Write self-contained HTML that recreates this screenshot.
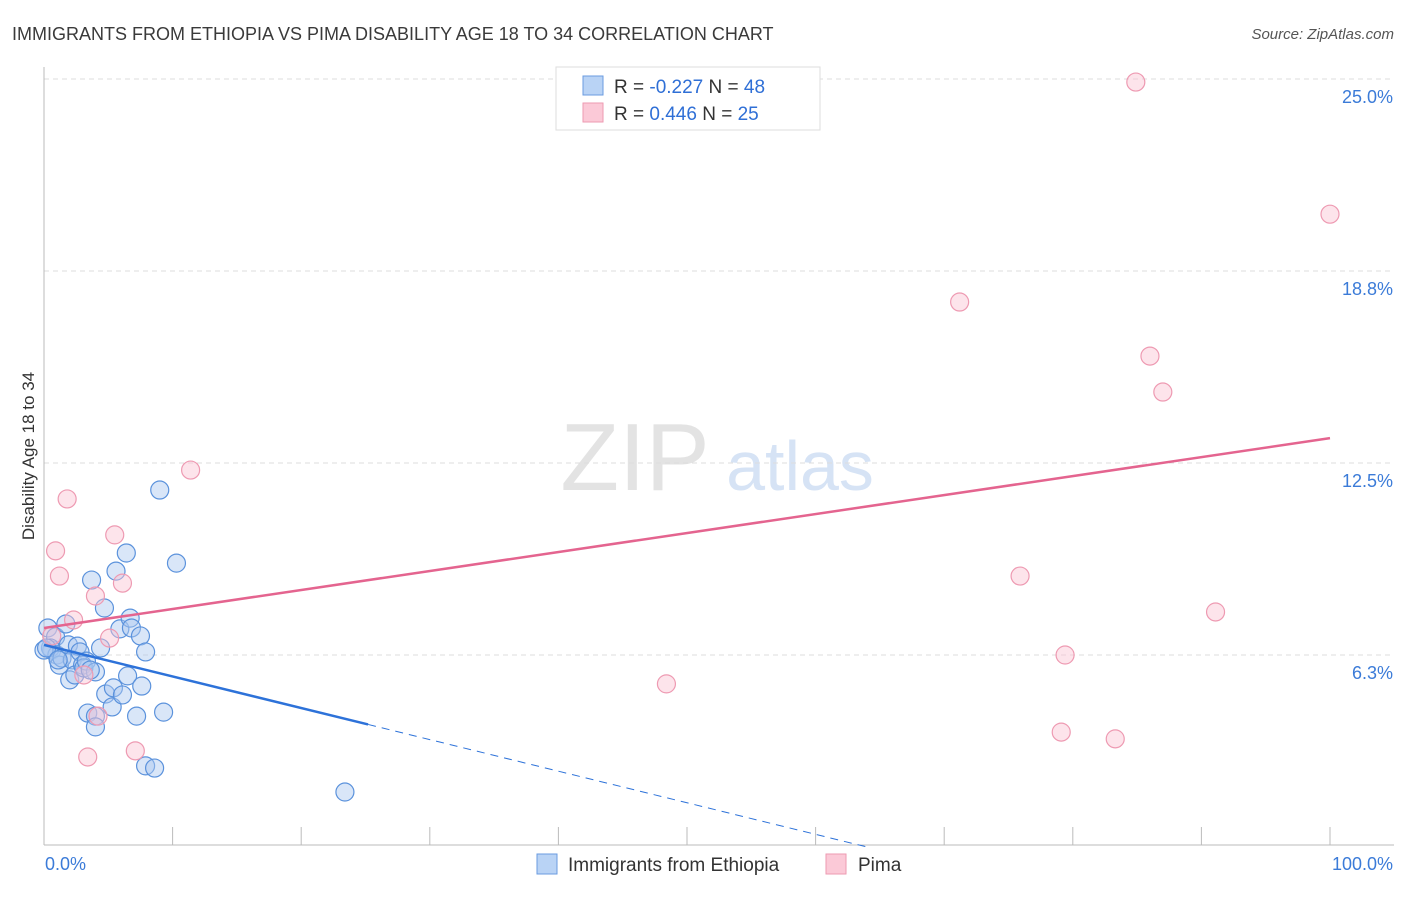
<!DOCTYPE html>
<html><head><meta charset="utf-8"><style>
body{margin:0;background:#fff;font-family:"Liberation Sans",sans-serif}
svg text{font-family:"Liberation Sans",sans-serif}
</style></head><body>
<svg id="c" width="1406" height="892" xmlns="http://www.w3.org/2000/svg">
<text x="12" y="40" font-size="18" fill="#3a3a3a">IMMIGRANTS FROM ETHIOPIA VS PIMA DISABILITY AGE 18 TO 34 CORRELATION CHART</text>
<text x="1394" y="39" font-size="15" fill="#555" text-anchor="end" font-style="italic">Source: ZipAtlas.com</text>
<g><text x="635" y="490" font-size="96" fill="#e3e3e3" text-anchor="middle" font-family="Liberation Serif">ZIP</text><text x="800" y="490" font-size="70" fill="#d6e3f5" text-anchor="middle">atlas</text></g>
<g id="grid"></g><g id="axes"></g><g id="marks"></g>
<text transform="translate(34,456) rotate(-90)" font-size="17" fill="#333" text-anchor="middle">Disability Age 18 to 34</text>
<g>
<rect x="556" y="67" width="264" height="63" fill="#fff" stroke="#ddd"/>
<rect x="583" y="76" width="20" height="19" fill="#b9d3f5" stroke="#6a9be0"/>
<rect x="583" y="103" width="20" height="19" fill="#fbc9d7" stroke="#ee9ab2"/>
<text x="614" y="93" font-size="19" fill="#333">R = <tspan fill="#2f6fd6">-0.227</tspan>   N = <tspan fill="#2f6fd6">48</tspan></text>
<text x="614" y="120" font-size="19" fill="#333">R =  <tspan fill="#2f6fd6">0.446</tspan>   N = <tspan fill="#2f6fd6">25</tspan></text>
</g>
<g>
<rect x="537" y="854" width="20" height="20" fill="#b9d3f5" stroke="#6a9be0"/>
<text x="568" y="871" font-size="19" fill="#333">Immigrants from Ethiopia</text>
<rect x="826" y="854" width="20" height="20" fill="#fbc9d7" stroke="#ee9ab2"/>
<text x="858" y="871" font-size="19" fill="#333">Pima</text>
</g>
</svg>
<script>
const yTicks=[6.25,12.5,18.75,25];
const yTickLabels=["6.3%","12.5%","18.8%","25.0%"];
const xTickLabels=["0.0%","100.0%"];
const blueX=[0.3,0.6,0.9,0.5,1.0,1.2,1.4,1.7,1.9,2.0,2.2,2.4,2.6,2.8,3.0,3.1,3.3,3.4,3.7,4.0,4.0,4.0,4.4,4.7,4.8,5.3,5.4,5.6,5.9,6.1,6.4,6.5,6.7,6.8,7.2,7.5,7.6,7.9,7.9,8.6,9.0,9.3,10.3,23.4,0,0.2,1.1,3.6];
const blueY=[7.13,6.41,6.84,6.48,6.25,5.92,6.15,7.26,6.58,5.44,6.09,5.6,6.54,6.35,5.92,5.83,6.05,4.36,8.69,5.7,4.26,3.91,6.48,7.78,4.98,4.56,5.18,8.98,7.1,4.95,9.57,5.57,7.45,7.13,4.26,6.87,5.24,2.64,6.35,2.57,11.62,4.39,9.24,1.79,6.41,6.48,6.09,5.76];
const pinkX=[84.9,100,71.2,86.0,87.0,11.4,1.8,5.5,0.9,1.2,6.1,4.0,2.3,5.1,75.9,91.1,79.4,48.4,79.1,83.3,7.1,3.4,4.2,3.1,0.6];
const pinkY=[24.9,20.6,17.74,15.98,14.81,12.27,11.33,10.16,9.64,8.82,8.59,8.17,7.39,6.8,8.82,7.65,6.25,5.31,3.74,3.52,3.13,2.93,4.26,5.6,6.87];
const blueTrend=[6.58,-0.1028];
const pinkTrend=[7.13,0.0618];
const NS="http://www.w3.org/2000/svg";
const X=v=>44+v*12.86, Y=v=>847-v*30.72;
function mk(p,t,a){const e=document.createElementNS(NS,t);for(const k in a)e.setAttribute(k,a[k]);p.appendChild(e);return e;}
const grid=document.getElementById('grid'),axes=document.getElementById('axes'),marks=document.getElementById('marks');
yTicks.forEach((t,i)=>{
const l=mk(grid,'line',{x1:44,x2:1394,y1:Y(t),y2:Y(t),stroke:'#ddd','stroke-dasharray':'5,4'});


const tx=mk(grid,'text',{x:1393,y:Y(t)+24,'font-size':18,fill:'#3b7bd8','text-anchor':'end'});tx.textContent=yTickLabels[i];


});
const ax=mk(axes,'line',{x1:44,x2:1394,y1:845,y2:845,stroke:'#bbb'});


const ay=mk(axes,'line',{x1:44,x2:44,y1:67,y2:845,stroke:'#bbb'});


for(let i=1;i<=10;i++){const t=mk(axes,'line',{x1:X(i*10),x2:X(i*10),y1:827,y2:845,stroke:'#bbb'});

}
const xl0=mk(axes,'text',{x:45,y:870,'font-size':18,fill:'#3b7bd8'});xl0.textContent=xTickLabels[0];


const xl1=mk(axes,'text',{x:1393,y:870,'font-size':18,fill:'#3b7bd8','text-anchor':'end'});xl1.textContent=xTickLabels[1];


blueX.forEach((x,i)=>{const c=mk(marks,'circle',{cx:X(x),cy:Y(blueY[i]),r:9,fill:'rgba(170,200,240,0.45)',stroke:'#5b92dc','stroke-width':1.2});

});
pinkX.forEach((x,i)=>{const c=mk(marks,'circle',{cx:X(x),cy:Y(pinkY[i]),r:9,fill:'rgba(250,195,210,0.45)',stroke:'#ee9ab2','stroke-width':1.2});

});
const bEnd=25.2,bZero=-blueTrend[0]/blueTrend[1];
const bl=mk(marks,'line',{x1:X(0),y1:Y(blueTrend[0]),x2:X(bEnd),y2:Y(blueTrend[0]+blueTrend[1]*bEnd),stroke:'#2d72d9','stroke-width':2.5});


const bd=mk(marks,'line',{x1:X(bEnd),y1:Y(blueTrend[0]+blueTrend[1]*bEnd),x2:X(bZero),y2:Y(0),stroke:'#2d72d9','stroke-width':1,'stroke-dasharray':'8,6'});


const pl=mk(marks,'line',{x1:X(0),y1:Y(pinkTrend[0]),x2:X(100),y2:Y(pinkTrend[0]+pinkTrend[1]*100),stroke:'#e4648f','stroke-width':2.5});


</script>
</body></html>
